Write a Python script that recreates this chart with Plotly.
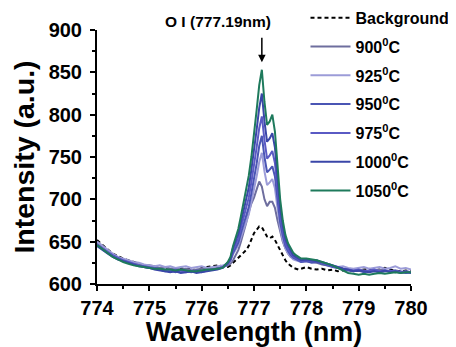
import plotly.graph_objects as go

wavelength = [
    774.0, 774.1, 774.2, 774.3, 774.4, 774.5, 774.6, 774.7, 774.8, 774.9,
    775.0, 775.1, 775.2, 775.3, 775.4, 775.5, 775.6, 775.7, 775.8, 775.9,
    776.0, 776.1, 776.2, 776.3, 776.4,
    776.5, 776.55, 776.6, 776.65, 776.7, 776.75, 776.8, 776.85, 776.9, 776.95,
    777.0, 777.05, 777.1, 777.15, 777.2, 777.25, 777.3, 777.35, 777.4, 777.45,
    777.5, 777.55, 777.6, 777.65, 777.7, 777.75, 777.8, 777.85, 777.9,
    778.0, 778.1, 778.2, 778.3, 778.4, 778.5, 778.6, 778.7, 778.8, 778.9,
    779.0, 779.1, 779.2, 779.3, 779.4, 779.5, 779.6, 779.7, 779.8, 779.9, 780.0,
]

background = [
    652, 646, 641, 636, 633, 630, 628, 626, 624, 622,
    621, 620, 619, 620, 617, 618, 619, 617, 618, 616,
    619, 620, 621, 622, 621,
    620, 622, 625, 627, 630, 634, 637, 640, 645, 652,
    660, 664, 668, 667, 662, 656, 654, 656, 652, 646,
    639, 634, 628, 624, 621, 619, 618, 617, 618,
    620, 618, 617, 618, 616, 617, 615, 616, 617, 615,
    616, 617, 618, 616, 617, 619, 617, 616, 615, 616, 615,
]

t900 = [
    648, 643, 638, 634, 631, 628, 627, 625, 623, 622,
    622, 621, 619, 620, 618, 619, 617, 618, 616, 617,
    618, 619, 618, 619, 620,
    622, 624, 628, 634, 640, 650, 660, 672, 685, 695,
    702, 712, 721, 715, 700, 692, 697, 697, 690, 675,
    662, 650, 642, 636, 632, 630, 629, 628, 628,
    627, 626, 625, 623, 622, 621, 619, 618, 617, 616,
    617, 616, 615, 616, 617, 616, 615, 616, 614, 615, 614,
]

t925 = [
    650, 645, 641, 636, 632, 630, 628, 626, 625, 623,
    622, 621, 622, 620, 621, 619, 620, 621, 619, 620,
    621, 619, 620, 621, 622,
    624, 627, 635, 640, 646, 655, 663, 673, 682, 696,
    710, 727, 744, 755, 733, 717, 720, 724, 713, 690,
    666, 652, 642, 636, 632, 629, 628, 627, 626,
    627, 626, 628, 625, 624, 622, 620, 621, 619, 618,
    619, 620, 618, 619, 620, 618, 619, 621, 618, 619, 617,
]

t950 = [
    646, 641, 637, 633, 630, 627, 625, 623, 622, 620,
    619, 618, 617, 615, 616, 614, 616, 615, 614, 616,
    615, 616, 617, 618, 619,
    624, 628, 637, 643, 649, 660, 670, 680, 691, 707,
    724, 742, 763, 775, 750, 732, 735, 739, 727, 701,
    673, 657, 645, 639, 634, 631, 629, 628, 626,
    627, 625, 626, 624, 622, 620, 619, 618, 616, 615,
    616, 614, 615, 616, 614, 615, 616, 614, 615, 613, 614,
]

t975 = [
    647, 642, 638, 634, 631, 628, 626, 624, 622, 621,
    620, 619, 618, 617, 615, 617, 616, 614, 616, 615,
    614, 616, 617, 618, 620,
    625, 629, 640, 647, 654, 666, 677, 689, 702, 720,
    739, 761, 784, 798, 770, 748, 752, 757, 743, 713,
    681, 663, 648, 641, 636, 632, 631, 629, 627,
    628, 627, 628, 625, 623, 621, 620, 618, 617, 616,
    617, 615, 616, 617, 615, 616, 615, 616, 614, 615, 614,
]

t1000 = [
    645, 640, 636, 632, 629, 627, 625, 623, 621, 620,
    619, 617, 616, 615, 614, 615, 613, 614, 615, 613,
    614, 615, 616, 617, 619,
    625, 630, 643, 651, 659, 673, 686, 700, 714, 735,
    757, 782, 808, 825, 792, 768, 772, 778, 761, 726,
    690, 669, 653, 645, 639, 634, 632, 630, 628,
    629, 628, 627, 626, 624, 622, 620, 618, 617, 615,
    616, 615, 614, 615, 614, 616, 614, 615, 613, 614, 613,
]

t1050 = [
    646, 641, 636, 632, 629, 626, 624, 622, 621, 620,
    619, 618, 618, 617, 617, 616, 617, 616, 615, 615,
    616, 617, 617, 618, 619,
    626, 632, 645, 655, 665, 680, 695, 712, 728, 750,
    775, 805, 835, 853, 815, 788, 792, 800, 780, 740,
    700, 675, 658, 648, 642, 637, 634, 632, 630,
    630, 629, 628, 626, 624, 622, 619, 616, 613, 612,
    611, 612, 611, 612, 613, 612, 613, 614, 613, 614, 614,
]

series = [
    ("Background", background, "#000000", "4px,3px"),
    ("900<sup>0</sup>C", t900, "#6e6e9e", "solid"),
    ("925<sup>0</sup>C", t925, "#9c9cd8", "solid"),
    ("950<sup>0</sup>C", t950, "#4a55b4", "solid"),
    ("975<sup>0</sup>C", t975, "#5a5ac4", "solid"),
    ("1000<sup>0</sup>C", t1000, "#3a46a8", "solid"),
    ("1050<sup>0</sup>C", t1050, "#1e7a5c", "solid"),
]

fig = go.Figure()
for i, (name, vals, color, dash) in enumerate(series):
    fig.add_trace(go.Scatter(
        x=wavelength, y=vals, mode="lines", name=name,
        line=dict(color=color, width=2, dash=dash),
        legendgroup=f"g{i}",
    ))

font_family = "Liberation Sans, Arial, sans-serif"

# the page body has an 8px margin, so the figure is sized to fit the window
fig.update_layout(
    width=448, height=339,
    margin=dict(l=89, r=45, t=22, b=63, autoexpand=False),
    paper_bgcolor="white", plot_bgcolor="white",
    font=dict(family=font_family, color="black"),
    showlegend=True,
    legend=dict(
        x=0.664, y=1.115, xanchor="left", yanchor="top",
        bgcolor="rgba(0,0,0,0)",
        font=dict(size=16, family=font_family, weight="bold"),
        tracegroupgap=5, maxheight=320, itemwidth=40,
    ),
    xaxis=dict(
        range=[774, 780], tickmode="array",
        tickvals=[774, 775, 776, 777, 778, 779, 780],
        showline=True, linewidth=2, linecolor="black", mirror=False,
        ticks="outside", ticklen=5, tickwidth=2, tickcolor="black",
        minor=dict(dtick=0.5, ticks="outside", ticklen=3, tickwidth=2, tickcolor="black"),
        showgrid=False, zeroline=False,
        tickfont=dict(size=20, weight="bold"),
        title=dict(text="Wavelength (nm)", font=dict(size=27, weight="bold"), standoff=4),
    ),
    yaxis=dict(
        range=[600, 900], tickmode="array",
        tickvals=[600, 650, 700, 750, 800, 850, 900],
        showline=True, linewidth=2, linecolor="black", mirror=False,
        ticks="outside", ticklen=5, tickwidth=2, tickcolor="black",
        minor=dict(dtick=25, ticks="outside", ticklen=3, tickwidth=2, tickcolor="black"),
        showgrid=False, zeroline=False,
        tickfont=dict(size=20, weight="bold"),
        ticklabelstandoff=4,
        title=dict(text="Intensity (a.u.)", font=dict(size=28.5, weight="bold"), standoff=6),
    ),
    annotations=[
        dict(text="O I (777.19nm)", xref="paper", yref="paper",
             x=(218 - 97) / 314, y=(284 - 21) / 254, xanchor="center", yanchor="middle",
             showarrow=False, font=dict(size=15.5, weight="bold")),
        dict(text="", x=777.15, y=862, xref="x", yref="y",
             ax=0, ay=-26, showarrow=True, arrowhead=2, arrowwidth=1.5,
             arrowsize=1, arrowcolor="black"),
    ],
)

fig.write_html("out.html")
